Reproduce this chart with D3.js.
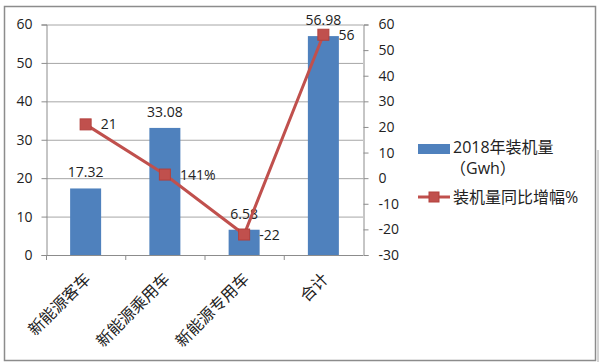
<!DOCTYPE html>
<html>
<head>
<meta charset="utf-8">
<script src="https://cdn.jsdelivr.net/npm/d3@7"></script>
<style>
  body { margin: 0; background: #fff; }
  svg text { font-family: "Open Sans", "Noto Sans CJK SC", sans-serif; fill: #222; }
</style>
</head>
<body>
<svg id="chart" width="600" height="363"></svg>
<script>
// chart data
var categories = ["新能源客车", "新能源乘用车", "新能源专用车", "合计"];
var installed = [17.32, 33.08, 6.58, 56.98];       // 2018 installed volume (Gwh)
var growth = [21, 1.41, -22, 56];                   // year over year growth
var growthLabels = ["21", "141%", "-22", "56"];
var leftTicks = [0, 10, 20, 30, 40, 50, 60];
var rightTicks = [-30, -20, -10, 0, 10, 20, 30, 40, 50, 60];

var svg = d3.select("#chart");
var barColor = "#4f81bd", lineColor = "#c0504d";
var plotL = 46, plotR = 363, plotT = 24.5, plotB = 255;

// outer frame
svg.append("rect").attr("x", 4.5).attr("y", 6.5).attr("width", 591).attr("height", 354)
	.attr("fill", "none").attr("stroke", "#8c8c8c").attr("stroke-width", 1.5);
svg.append("line").attr("x1", 598).attr("x2", 598).attr("y1", 150).attr("y2", 362)
	.attr("stroke", "#aaa").attr("stroke-width", 1);

var x = d3.scaleBand().domain(categories).range([plotL, plotR]);
var yL = d3.scaleLinear().domain([0, 60]).range([plotB, plotT]);
var yR = d3.scaleLinear().domain([-30, 60]).range([plotB, plotT]);

// gridlines
svg.append("g").selectAll("line").data(leftTicks.filter(function(d) { return d > 0; }))
	.enter().append("line")
	.attr("x1", plotL).attr("x2", plotR)
	.attr("y1", function(d) { return yL(d) + 0.5; })
	.attr("y2", function(d) { return yL(d) + 0.5; })
	.attr("stroke", "#a6a6a6");

// bars
var bw = 31;
svg.append("g").selectAll("rect").data(installed).enter().append("rect")
	.attr("x", function(d, i) { return x(categories[i]) + x.bandwidth() / 2 - bw / 2; })
	.attr("y", function(d) { return yL(d); })
	.attr("width", bw)
	.attr("height", function(d) { return plotB - yL(d); })
	.attr("fill", barColor);

// axes (plain hyphen for negatives, like the original)
var axisL = svg.append("g").attr("transform", "translate(" + (plotL + 0.5) + ",0)")
	.call(d3.axisLeft(yL).tickValues(leftTicks).tickFormat(String).tickSize(5).tickPadding(9));
var axisR = svg.append("g").attr("transform", "translate(" + (plotR + 0.5) + ",0)")
	.call(d3.axisRight(yR).tickValues(rightTicks).tickFormat(String).tickSize(5).tickPadding(10));
[axisL, axisR].forEach(function(a) {
	a.select(".domain").attr("stroke", "#8c8c8c");
	a.selectAll(".tick line").attr("stroke", "#8c8c8c");
	a.selectAll(".tick text").attr("font-size", "14px").attr("fill", "#222")
		.style("font-family", "'Open Sans', sans-serif");
});

// x axis line and boundary ticks
svg.append("line").attr("x1", plotL).attr("x2", plotR).attr("y1", plotB + 0.5).attr("y2", plotB + 0.5)
	.attr("stroke", "#8c8c8c");
svg.append("g").selectAll("line").data(categories).enter().append("line")
	.attr("x1", function(d) { return x(d) + 0.5; })
	.attr("x2", function(d) { return x(d) + 0.5; })
	.attr("y1", plotB).attr("y2", plotB + 5)
	.attr("stroke", "#8c8c8c");

// category labels, rotated
svg.append("g").selectAll("text").data(categories).enter().append("text")
	.attr("transform", function(d) {
		return "translate(" + (x(d) + x.bandwidth() / 2 + 6) + "," + (plotB + 25) + ") rotate(-45)";
	})
	.attr("text-anchor", "end")
	.attr("font-size", "16px")
	.style("font-family", "'Noto Sans CJK SC', sans-serif")
	.text(function(d) { return d; });

// bar value labels
svg.append("g").selectAll("text").data(installed).enter().append("text")
	.attr("x", function(d, i) { return x(categories[i]) + x.bandwidth() / 2; })
	.attr("y", function(d) { return yL(d) - 11; })
	.attr("text-anchor", "middle")
	.attr("font-size", "14px")
	.text(function(d) { return d; });

// growth line
var pts = growth.map(function(d, i) { return [x(categories[i]) + x.bandwidth() / 2, yR(d)]; });
svg.append("path").attr("d", d3.line()(pts))
	.attr("fill", "none").attr("stroke", lineColor).attr("stroke-width", 3);
svg.append("g").selectAll("rect").data(pts).enter().append("rect")
	.attr("x", function(d) { return d[0] - 5.5; })
	.attr("y", function(d) { return d[1] - 5.5; })
	.attr("width", 11).attr("height", 11)
	.attr("fill", lineColor).attr("stroke", "#b3403c");
svg.append("g").selectAll("text").data(pts).enter().append("text")
	.attr("x", function(d) { return d[0] + 15; })
	.attr("y", function(d) { return d[1] + 5; })
	.attr("font-size", "14px")
	.text(function(d, i) { return growthLabels[i]; });

// legend
var lg = svg.append("g").style("font-family", "'Noto Sans CJK SC', sans-serif");
lg.append("rect").attr("x", 418).attr("y", 144).attr("width", 32).attr("height", 10).attr("fill", barColor);
lg.append("text").attr("x", 453).attr("y", 153).attr("font-size", "16px").text("2018年装机量");
lg.append("text").attr("x", 450).attr("y", 174).attr("font-size", "16px").text("（Gwh）");
lg.append("line").attr("x1", 418).attr("x2", 450).attr("y1", 197).attr("y2", 197)
	.attr("stroke", lineColor).attr("stroke-width", 3);
lg.append("rect").attr("x", 429).attr("y", 192).attr("width", 10).attr("height", 10)
	.attr("fill", lineColor).attr("stroke", "#b3403c");
lg.append("text").attr("x", 453).attr("y", 203).attr("font-size", "16px").text("装机量同比增幅%");
</script>
</body>
</html>
